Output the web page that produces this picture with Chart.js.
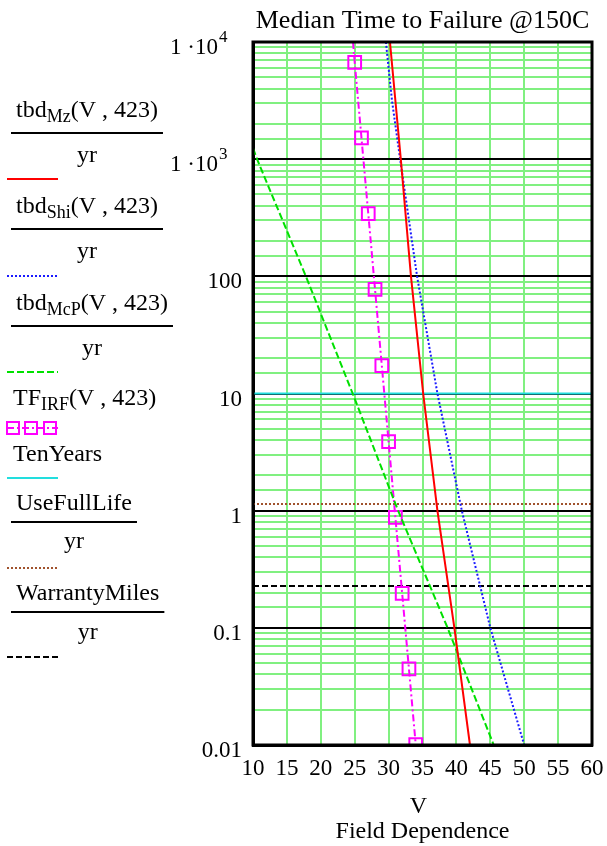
<!DOCTYPE html>
<html>
<head>
<meta charset="utf-8">
<script src="https://cdn.jsdelivr.net/npm/chart.js@4.4.1/dist/chart.umd.min.js"></script>
<style>
  html, body { margin: 0; padding: 0; background: #fff; }
  canvas { display: block; }
</style>
</head>
<body>
<canvas id="chart" width="607" height="846"></canvas>
<script>
// ── Data ──────────────────────────────────────────────────
const xMin = 10, xMax = 60, xStep = 5;
const yTickValues = [1e4, 1e3, 100, 10, 1, 0.1, 0.01];
const yTickLabels = [['1 ·10', '4'], ['1 ·10', '3'], ['100'], ['10'], ['1'], ['0.1'], ['0.01']];

// tbd_Mz(V,423)/yr
const mzV   = [30.2, 31.8, 33.3, 35.1, 37.2, 39.7, 42.0];
const mzT   = [1e4, 1e3, 100, 10, 1, 0.1, 0.01];
// tbd_Shi(V,423)/yr
const shiV  = [29.6, 30.5, 31.7, 34.2, 37.2, 40.8, 45.0, 50.0];
const shiT  = [1e4, 3162, 1e3, 100, 10, 1, 0.1, 0.01];
// tbd_McP(V,423)/yr
const mcpV  = [10, 10.6, 17.8, 24.7, 31.4, 38.7, 45.5];
const mcpT  = [1240, 1e3, 100, 10, 1, 0.1, 0.01];
// TF_IRF(V,423) – first point is where the curve leaves the top edge
const irfV  = [24.75, 25, 26, 27, 28, 29, 30, 31, 32, 33, 34];
const irfT  = [1e4, 6714, 1517, 343, 77.3, 17.3, 3.88, 0.877, 0.197, 0.0446, 0.0101];

const tenYears      = 10;
const useFullLife   = 1.14;
const warrantyMiles = 0.228;

// ── Style ─────────────────────────────────────────────────
const SERIF   = '"Liberation Serif", "Times New Roman", serif';
const GREEN   = 'rgb(128,240,128)';
const RED     = '#ff0000';
const BLUE    = '#1a1aff';
const LIME    = '#00e000';
const MAGENTA = '#ff00ff';
const CYAN    = '#22dede';
const BROWN   = '#a0522d';

const pts = (xs, ys) => xs.map((x, i) => ({ x, y: ys[i] }));
const hline = v => [{ x: xMin, y: v }, { x: xMax, y: v }];
const isDecade = v => Math.abs(Math.log10(v) - Math.round(Math.log10(v))) < 1e-6;

const datasets = [
  { data: pts(mzV, mzT),   borderColor: RED,  borderWidth: 2 },
  { data: pts(shiV, shiT), borderColor: BLUE, borderWidth: 2, borderDash: [2, 2] },
  { data: pts(mcpV, mcpT), borderColor: LIME, borderWidth: 2, borderDash: [7, 3] },
  { data: pts(irfV, irfT), borderColor: MAGENTA, borderWidth: 2, borderDash: [7, 3, 2, 3],
    pointStyle: 'rect', pointRadius: irfV.map((v, i) => i === 0 ? 0 : 9),
    pointBorderColor: MAGENTA, pointBackgroundColor: 'rgba(0,0,0,0)', pointBorderWidth: 2 },
  { data: hline(tenYears),      borderColor: CYAN,  borderWidth: 2 },
  { data: hline(useFullLife),   borderColor: BROWN, borderWidth: 2, borderDash: [2, 2] },
  { data: hline(warrantyMiles), borderColor: '#000', borderWidth: 2, borderDash: [6, 3] },
].map(d => Object.assign({ pointRadius: 0, fill: false, tension: 0 }, d));

// ── Legend rows (Mathcad style) ───────────────────────────
const legendRows = [
  { name: 'tbd', sub: 'Mz',  args: '(V , 423)', den: 'yr', y: 117, bar: 133, denY: 162, sampleY: 179, color: RED,  dash: [] },
  { name: 'tbd', sub: 'Shi', args: '(V , 423)', den: 'yr', y: 213, bar: 229, denY: 258, sampleY: 276, color: BLUE, dash: [2, 2] },
  { name: 'tbd', sub: 'McP', args: '(V , 423)', den: 'yr', y: 310, bar: 326, denY: 355, sampleY: 372, color: LIME, dash: [7, 3] },
  { name: 'TF',  sub: 'IRF', args: '(V , 423)', den: null, y: 405, sampleY: 428, color: MAGENTA, dash: [7, 3, 2, 3], marker: true },
  { name: 'TenYears', sub: '', args: '', den: null, y: 461, sampleY: 478, color: CYAN, dash: [] },
  { name: 'UseFullLife', sub: '', args: '', den: 'yr', y: 510, bar: 522, denY: 548, sampleY: 568, color: BROWN, dash: [2, 2] },
  { name: 'WarrantyMiles', sub: '', args: '', den: 'yr', y: 600, bar: 612, denY: 639, sampleY: 657, color: '#000', dash: [6, 3] },
];

// ── Text / frame plugin ───────────────────────────────────
const decor = {
  id: 'decor',
  afterDraw(chart) {
    const ctx = chart.ctx;
    const area = chart.chartArea;
    const ys = chart.scales.y;
    ctx.save();

    // frame
    ctx.strokeStyle = '#000';
    ctx.lineWidth = 3;
    ctx.strokeRect(area.left, area.top, area.right - area.left, area.bottom - area.top);

    ctx.fillStyle = '#000';
    ctx.textBaseline = 'alphabetic';

    // title + axis titles
    const cx = (area.left + area.right) / 2;
    ctx.textAlign = 'center';
    ctx.font = `26px ${SERIF}`;
    ctx.fillText('Median Time to Failure @150C', cx, 28);
    ctx.font = `24px ${SERIF}`;
    ctx.fillText('V', cx - 4, 813);
    ctx.fillText('Field Dependence', cx, 838);

    // y tick labels
    yTickValues.forEach((v, i) => {
      const py = ys.getPixelForValue(v);
      const [main, sup] = yTickLabels[i];
      ctx.font = `23px ${SERIF}`;
      ctx.textAlign = 'right';
      if (sup) {
        ctx.fillText(main, 218, py + 12);
        ctx.font = `17px ${SERIF}`;
        ctx.textAlign = 'left';
        ctx.fillText(sup, 219, py);
      } else {
        ctx.fillText(main, 242, py + 12);
      }
    });

    // legend
    legendRows.forEach(r => {
      ctx.fillStyle = '#000';
      ctx.textAlign = 'left';
      ctx.font = `24px ${SERIF}`;
      let x = r.name === 'TF' || r.name === 'TenYears' ? 13 : 16;
      ctx.fillText(r.name, x, r.y);
      x += ctx.measureText(r.name).width;
      if (r.sub) {
        ctx.font = `18px ${SERIF}`;
        ctx.fillText(r.sub, x, r.y + 5);
        x += ctx.measureText(r.sub).width;
        ctx.font = `24px ${SERIF}`;
      }
      if (r.args) {
        ctx.fillText(r.args, x, r.y);
        x += ctx.measureText(r.args).width;
      }
      if (r.den) {
        const x1 = 11, x2 = x + 5;
        ctx.lineWidth = 2;
        ctx.strokeStyle = '#000';
        ctx.setLineDash([]);
        ctx.beginPath(); ctx.moveTo(x1, r.bar); ctx.lineTo(x2, r.bar); ctx.stroke();
        ctx.textAlign = 'center';
        ctx.fillText(r.den, (x1 + x2) / 2, r.denY);
      }
      // sample line
      ctx.strokeStyle = r.color;
      ctx.lineWidth = 2;
      ctx.setLineDash(r.dash);
      ctx.beginPath(); ctx.moveTo(7, r.sampleY); ctx.lineTo(58, r.sampleY); ctx.stroke();
      if (r.marker) {
        ctx.setLineDash([]);
        [13, 31, 50].forEach(mx => ctx.strokeRect(mx - 6, r.sampleY - 6, 12, 12));
      }
    });
    ctx.restore();
  }
};

new Chart(document.getElementById('chart').getContext('2d'), {
  type: 'line',
  data: { datasets },
  options: {
    responsive: false,
    animation: false,
    devicePixelRatio: 1,
    layout: { padding: { left: 253, right: 15, top: 42, bottom: 46 } },
    plugins: { legend: { display: false }, tooltip: { enabled: false }, title: { display: false } },
    scales: {
      x: {
        type: 'linear', min: xMin, max: xMax,
        ticks: { stepSize: xStep, autoSkip: false, maxRotation: 0, padding: 10, color: '#000', font: { family: SERIF, size: 23 } },
        grid: { color: GREEN, lineWidth: 2, drawTicks: false },
        border: { display: true, color: '#000', width: 3 },
        afterFit: s => { s.height = 55; s.paddingLeft = 0; s.paddingRight = 0; }
      },
      y: {
        type: 'logarithmic', min: 0.01, max: 1e4,
        ticks: { display: false },
        grid: { color: c => (c.tick && isDecade(c.tick.value)) ? '#000' : GREEN, lineWidth: 2, drawTicks: false },
        border: { display: true, color: '#000', width: 3 },
        afterFit: s => { s.width = 0; }
      }
    }
  },
  plugins: [decor]
});
</script>
</body>
</html>
